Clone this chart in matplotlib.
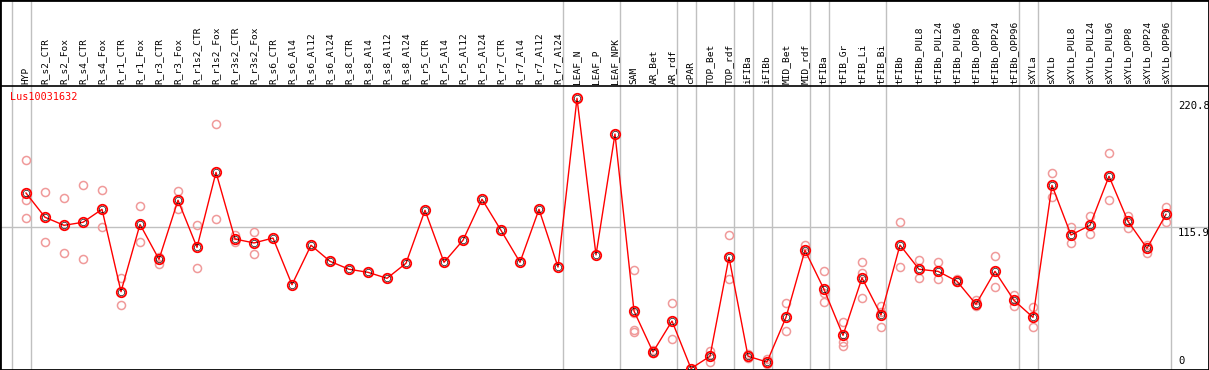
#!/usr/bin/env python3
"""Expression profile chart for one gene across tissues/treatments."""

import matplotlib
matplotlib.use("Agg")
import matplotlib.pyplot as plt
import matplotlib.transforms as mtransforms

GENE = "Lus10031632"

CATEGORIES = [
    "HYP", "R_s2_CTR", "R_s2_Fox", "R_s4_CTR", "R_s4_Fox", "R_r1_CTR", "R_r1_Fox",
    "R_r3_CTR", "R_r3_Fox", "R_r1s2_CTR", "R_r1s2_Fox", "R_r3s2_CTR", "R_r3s2_Fox",
    "R_s6_CTR", "R_s6_Al4", "R_s6_Al12", "R_s6_Al24", "R_s8_CTR", "R_s8_Al4",
    "R_s8_Al12", "R_s8_Al24", "R_r5_CTR", "R_r5_Al4", "R_r5_Al12", "R_r5_Al24",
    "R_r7_CTR", "R_r7_Al4", "R_r7_Al12", "R_r7_Al24", "LEAF_N", "LEAF_P", "LEAF_NPK",
    "SAM", "AR_Bet", "AR_rdf", "cPAR", "TOP_Bet", "TOP_rdf", "iFIBa", "iFIBb",
    "MID_Bet", "MID_rdf", "tFIBa", "tFIB_Gr", "tFIB_Li", "tFIB_Bi", "tFIBb",
    "tFIBb_PUL8", "tFIBb_PUL24", "tFIBb_PUL96", "tFIBb_OPP8", "tFIBb_OPP24",
    "tFIBb_OPP96", "sXYLa", "sXYLb", "sXYLb_PUL8", "sXYLb_PUL24", "sXYLb_PUL96",
    "sXYLb_OPP8", "sXYLb_OPP24", "sXYLb_OPP96",
]

MEANS = [
    143.4, 123.6, 117.0, 119.5, 130.1, 62.8, 117.8, 89.2, 137.5, 99.0, 160.3,
    105.8, 102.6, 106.6, 68.5, 100.7, 87.6, 81.1, 78.6, 73.7, 86.0, 129.3,
    86.8, 104.8, 138.3, 112.9, 86.8, 130.1, 82.9, 220.8, 92.8, 191.6,
    47.0, 13.5, 38.8, 0.0, 10.0, 90.9, 10.0, 5.3, 41.8, 96.6, 64.7, 27.1,
    74.0, 43.7, 100.9, 81.1, 79.4, 71.3, 52.5, 79.4, 55.7, 41.8, 149.7,
    109.1, 117.0, 157.1, 120.3, 98.2, 126.0,
]

REPLICATES = [
    [170.1, 137.5, 122.7], [144.0, 103.1], [139.1, 94.1], [149.7, 89.2],
    [145.6, 115.4], [74.2, 51.6], [132.5, 103.1], [91.4, 85.4], [145.1, 130.1],
    [117.0, 81.9], [199.6, 121.9], [108.9, 103.1], [111.3, 93.3],
    [], [], [], [], [], [], [], [], [], [], [], [], [], [], [], [],
    [], [], [],
    [80.5, 45.1, 31.5, 30.1], [15.0, 13.0, 12.5], [53.3, 23.9], [],
    [14.5, 5.6], [109.1, 72.9], [11.6, 8.4], [7.5, 3.4], [53.3, 30.6],
    [100.9, 94.1], [79.4, 61.5, 54.1], [37.8, 21.9, 18.6], [86.8, 78.3, 57.4],
    [51.3, 46.4, 33.7], [119.5, 82.7], [88.4, 73.7], [86.8, 72.9], [72.9, 70.4],
    [55.7, 51.3], [91.7, 66.4], [59.8, 50.8], [50.0, 33.7], [159.5, 139.9],
    [115.6, 102.8], [124.6, 109.7], [175.9, 137.5], [124.6, 115.1],
    [100.9, 94.6], [131.7, 119.5],
]

# number of samples in each group, separated by grey lines
GROUP_SIZES = [1, 28, 3, 3, 1, 2, 1, 1, 2, 1, 3, 7, 1, 7]

Y_MIN = 0
Y_MID = 115.9
Y_MAX = 220.8

W, H = 1209, 370
X0, STEP = 26, 19          # pixel position of the first sample, spacing
Y_ZERO, Y_TOP = 368.5, 98.3  # pixel rows of Y_MIN and Y_MAX
LABEL_BASE = 84             # pixel row where rotated labels end
HEADER_LINE = 86            # pixel row of the black line under the labels

RED = "#ff0000"
PINK = "#f09a9a"
GREY = "#c0c0c0"
MONO = "DejaVu Sans Mono"


def main():
    fig = plt.figure(figsize=(W / 100, H / 100), dpi=100, facecolor="white")
    ax = fig.add_axes([0, 0, 1, 1])

    ppu = (Y_ZERO - Y_TOP) / (Y_MAX - Y_MIN)
    ax.set_xlim(-X0 / STEP, (W - X0) / STEP)
    ax.set_ylim(Y_MIN - (H - Y_ZERO) / ppu, Y_MIN + Y_ZERO / ppu)
    ax.set_xticks([])
    ax.set_yticks([])
    for s in ax.spines.values():
        s.set_linewidth(2)
        s.set_color("black")

    # group separators
    ends = [-1]
    for g in GROUP_SIZES:
        ends.append(ends[-1] + g)
    for e in ends:
        ax.axvline(e + 0.25, color=GREY, lw=1, zorder=1)
    ax.axhline(Y_MID, color=GREY, lw=1, zorder=1)

    # header line and rotated sample labels
    yfrac = 1 - HEADER_LINE / H
    ax.plot([0, 1], [yfrac, yfrac], color="black", lw=1.2,
            transform=ax.transAxes, clip_on=False, zorder=5)
    trans = mtransforms.blended_transform_factory(ax.transData, ax.transAxes)
    for i, name in enumerate(CATEGORIES):
        ax.text(i, 1 - LABEL_BASE / H, name, rotation=90, ha="center",
                va="bottom", fontsize=6.8, family=MONO, transform=trans)

    # replicate values
    rx, ry = [], []
    for i, reps in enumerate(REPLICATES):
        rx += [i] * len(reps)
        ry += reps
    ax.plot(rx, ry, "o", ls="none", ms=5.8, mfc="none", mec=PINK, mew=1.1,
            zorder=2)

    # mean profile
    x = list(range(len(CATEGORIES)))
    ax.plot(x, MEANS, "-", color=RED, lw=1, zorder=3)
    ax.plot(x, MEANS, "o", ls="none", ms=6.8, mfc="none", mec=RED, mew=1.3,
            zorder=4)
    ax.plot(x, MEANS, "o", ls="none", ms=4.6, mfc="none", mec="black",
            mew=0.45, zorder=4)

    # gene name and value labels
    ax.text(10 / W, 1 - 97 / H, GENE, color=RED, fontsize=7.3, family=MONO,
            ha="left", va="center", transform=ax.transAxes)
    tx = mtransforms.blended_transform_factory(ax.transAxes, ax.transData)
    ax.text(1178 / W, Y_MAX - 2, f"{Y_MAX:g}", fontsize=7.6, family=MONO,
            ha="left", va="top", transform=tx)
    ax.text(1178 / W, Y_MID - 1, f"{Y_MID:g}", fontsize=7.6, family=MONO,
            ha="left", va="top", transform=tx)
    ax.text(1178 / W, Y_MIN + 2, f"{Y_MIN:g}", fontsize=7.6, family=MONO,
            ha="left", va="bottom", transform=tx)

    fig.savefig("out.png", dpi=100, facecolor="white")


if __name__ == "__main__":
    main()
